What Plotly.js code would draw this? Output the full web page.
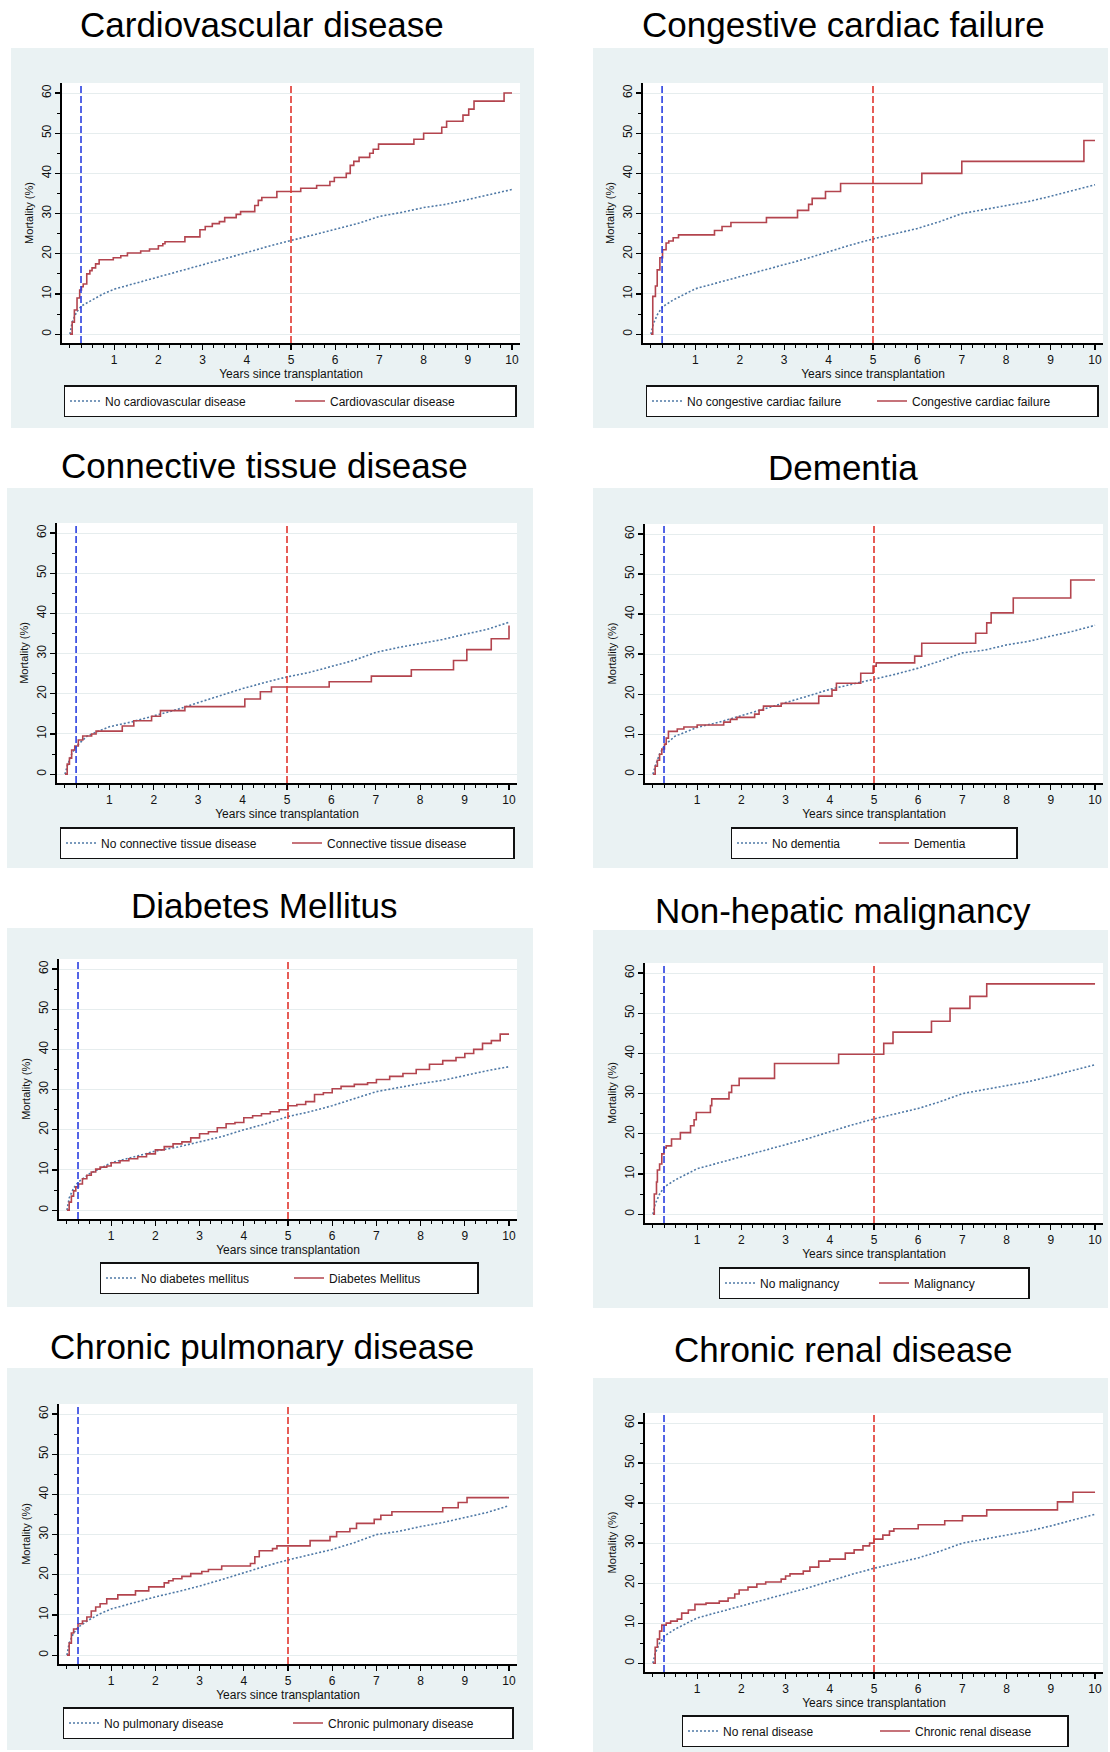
<!DOCTYPE html>
<html>
<head>
<meta charset="utf-8">
<script src="https://cdn.plot.ly/plotly-3.0.1.min.js"></script>
<style>html,body{margin:0;padding:0;background:#fff;}#chart{width:1110px;height:1752px;}</style>
</head>
<body>
<div id="chart"></div>
<script>
// ---------------- DATA ----------------
const panelTitles = ["Cardiovascular disease","Congestive cardiac failure","Connective tissue disease","Dementia",
  "Diabetes Mellitus","Non-hepatic malignancy","Chronic pulmonary disease","Chronic renal disease"];
const noLabels = ["No cardiovascular disease","No congestive cardiac failure","No connective tissue disease","No dementia",
  "No diabetes mellitus","No malignancy","No pulmonary disease","No renal disease"];
const yesLabels = ["Cardiovascular disease","Congestive cardiac failure","Connective tissue disease","Dementia",
  "Diabetes Mellitus","Malignancy","Chronic pulmonary disease","Chronic renal disease"];
const xTickVals = [1,2,3,4,5,6,7,8,9,10];
const yTickVals = [0,10,20,30,40,50,60];
const refLines = [0.25, 5];
const xTitle = "Years since transplantation";
const yTitle = "Mortality (%)";

// comparison (no comorbidity) curves: common time grid
const blueT = [0,0.05,0.15,0.26,0.5,0.75,1,1.5,2,2.5,3,3.5,4,4.5,5,5.5,6,6.5,7,7.5,8,8.5,9,9.5,10];
const blue1 = [0,3,5.5,7,8.5,10,11.2,12.7,14.3,15.8,17.2,18.7,20.3,21.9,23.3,24.6,26,27.5,29.3,30.3,31.5,32.3,33.5,34.8,36];
const blue2 = [0,2.5,5,6.8,8.5,10,11.3,12.8,14.3,15.8,17.2,18.8,20.5,22.2,23.7,25,26.3,28,30,31,32,33,34.3,35.8,37.2];
const blue3 = [0,2,5,7,9.5,10.7,11.8,13,14.5,16,17.8,19.5,21.3,22.8,24.2,25.3,26.8,28.3,30.3,31.5,32.5,33.5,34.8,36,37.8];
const blue4 = [0,2,5,7.2,9.5,10.7,11.7,13,14.6,16.2,17.8,19.5,21.2,22.5,23.8,25,26.5,28.3,30.3,31,32.3,33.2,34.5,35.7,37.2];
const blue5 = [0,3,5.5,7,9,10.5,11.8,13.2,14.7,15.7,17,18.3,20,21.5,23.3,24.5,26,27.8,29.5,30.5,31.5,32.3,33.5,34.7,35.7];
const blue6 = [0,2.5,5,6.8,8.5,10,11.3,12.8,14.3,15.8,17.2,18.8,20.5,22.2,23.7,25,26.3,28,30,31,32,33,34.3,35.8,37.2];
const blue7 = [0,3,5.5,7,8.8,10.3,11.5,13,14.5,15.8,17.2,18.8,20.5,22.2,23.7,25,26.3,28,30,30.8,32,33,34.3,35.5,37.2];
const blue8 = [0,2.5,5,6.8,8.5,10,11.3,12.8,14.3,15.8,17.2,18.8,20.5,22.2,23.7,25,26.3,28,30,31,32,33,34.3,35.8,37.2];

// comorbidity (step) curves
const redT1 = [0,0.05,0.1,0.16,0.22,0.26,0.3,0.38,0.45,0.5,0.58,0.66,0.98,1.15,1.3,1.6,1.8,2.0,2.1,2.15,2.6,2.94,3.06,3.22,3.38,3.5,3.76,3.86,4.18,4.26,4.34,4.68,5.22,5.58,5.88,5.98,6.25,6.34,6.42,6.54,6.78,6.86,6.98,7.78,8.0,8.41,8.52,8.89,9.02,9.14,9.82,10];
const redY1 = [0,3,6,9,11,11.8,12.5,15,15.8,16.5,17.5,18.5,19,19.5,20.2,20.7,21.2,22,22.5,23,24.2,26,26.8,27.5,28,29,29.8,30.5,32,33.3,34,35.5,36.3,37,38,39,40,42,43,44,45,46,47.3,48.5,50,51.5,53,54.5,56,58,60,60];
const redT2 = [0,0.04,0.1,0.14,0.2,0.26,0.34,0.4,0.5,0.62,1.43,1.6,1.8,2.6,3.3,3.55,3.63,3.93,4.27,6.1,7.0,9.75,10];
const redY2 = [0,9.4,12,16,19,21,22.7,23.2,24,24.7,25.8,26.8,27.8,29,30.8,32.3,33.8,35.5,37.5,40,43,48.2,48.2];
const redT3 = [0,0.05,0.1,0.15,0.22,0.3,0.4,0.6,0.7,1.29,1.55,1.95,2.15,2.7,4.05,4.4,4.65,5.95,6.9,7.8,8.75,9.05,9.6,10,10];
const redY3 = [0,2.5,4,6,7,8.5,9.5,10,10.7,12,13.3,14.4,15.8,16.8,18.7,20.5,21.7,23,24.4,26,28.3,31,33.7,33.7,37];
const redT4 = [0,0.05,0.1,0.15,0.2,0.26,0.3,0.35,0.55,0.7,1.0,1.6,1.75,1.9,2.3,2.4,2.5,2.9,3.75,4.05,4.15,4.7,4.98,5.05,5.92,6.08,7.3,7.55,7.65,8.15,9.45,10];
const redY4 = [0,2,3.5,5,6.3,7.5,9,10.7,11.3,11.8,12.3,13,13.7,14.2,15,16,17,17.7,19.5,21,22.7,25.2,27,27.8,29.5,32.7,35.2,37.8,40.3,44,48.5,48.5];
const redT5 = [0,0.05,0.1,0.15,0.2,0.26,0.35,0.45,0.55,0.65,0.75,0.9,1.0,1.2,1.4,1.6,1.8,2.0,2.2,2.4,2.6,2.8,3.0,3.2,3.4,3.6,3.8,4.0,4.2,4.4,4.6,4.8,5.0,5.2,5.4,5.6,5.8,6.0,6.2,6.5,6.8,7.0,7.3,7.6,7.9,8.2,8.5,8.8,9.0,9.2,9.4,9.6,9.8,10];
const redY5 = [0,2,3.5,4.8,5.8,6.5,7.8,8.7,9.5,10.2,10.7,11,11.8,12.3,12.8,13.3,14,15,15.8,16.5,17,18,19,19.5,20.5,21.5,21.8,23,23.5,24,24.5,25,26,26.3,27,28.8,29.2,30.2,30.8,31.3,31.7,32.5,33.3,34,35,36.3,37.2,38,39,40,41.5,42.2,43.8,43.8];
const redT6 = [0,0.03,0.08,0.1,0.15,0.2,0.25,0.3,0.42,0.62,0.85,0.93,0.98,1.3,1.33,1.72,1.78,1.95,2.75,4.2,5.22,5.43,6.3,6.72,7.17,7.55,10];
const redY6 = [0,5,8,11,12.5,15,16.5,17,18.7,20.3,22,23.5,25.3,27,28.7,30.3,32,33.8,37.5,39.8,42.5,45.3,48,51.2,54.2,57.3,57.3];
const redT7 = [0,0.05,0.1,0.15,0.25,0.35,0.45,0.55,0.65,0.75,0.9,1.15,1.55,1.85,2.2,2.3,2.4,2.6,2.8,3.05,3.2,3.5,4.15,4.25,4.35,4.65,4.75,5.5,5.95,6.1,6.4,6.55,6.95,7.1,7.35,8.5,8.85,9.05,10];
const redY7 = [0,3,5.5,6.5,7.8,8.5,9.5,11,12,12.8,14,15,16,17,18,18.5,19,19.6,20.3,20.8,21.3,22.2,22.8,24.5,26,26.5,27.2,28.5,29.5,30.7,31.5,32.8,33.8,34.8,35.7,36.7,38,39.2,39.2];
const redT8 = [0,0.05,0.1,0.15,0.2,0.3,0.4,0.55,0.65,0.8,0.95,1.2,1.5,1.7,1.85,1.95,2.15,2.35,2.55,2.9,3.0,3.1,3.4,3.55,3.75,4.0,4.35,4.55,4.75,4.9,5.0,5.2,5.35,5.45,6.0,6.6,7.0,7.55,9.15,9.5,10];
const redY8 = [0,4,6,8,9.5,10,10.5,11,12.5,13.3,14.7,15,15.5,16.3,17.3,18.3,19,19.8,20.3,21,21.8,22.3,23,24,25.5,26,27.5,28.3,29.3,30,31,32,33,33.6,34.6,35.6,36.8,38.3,40.3,42.7,42.7];

const blueY = [blue1,blue2,blue3,blue4,blue5,blue6,blue7,blue8];
const redT = [redT1,redT2,redT3,redT4,redT5,redT6,redT7,redT8];
const redY = [redY1,redY2,redY3,redY4,redY5,redY6,redY7,redY8];

// ---------------- LAYOUT GEOMETRY (pixels) ----------------
const W = 1110, H = 1752;
const geo = [
  {bg:[11,48,534,428],   plot:[62,83,520,343],    title:[262,25],   leg:[290,385],  ew:180},
  {bg:[593,48,1108,428], plot:[643,83,1103,343],  title:[843,25],   leg:[872,385],  ew:180},
  {bg:[7,488,533,868],   plot:[57,523,517,783],   title:[264,465],  leg:[287,827],  ew:181},
  {bg:[593,488,1108,868],plot:[645,524,1103,783], title:[843,467],  leg:[874,827],  ew:97},
  {bg:[7,928,533,1307],  plot:[59,959,517,1219],  title:[264,905],  leg:[289,1262], ew:143},
  {bg:[593,930,1108,1308],plot:[645,963,1103,1223],title:[843,910], leg:[874,1267], ew:109},
  {bg:[7,1368,533,1750], plot:[59,1404,517,1664], title:[262,1346], leg:[288,1707], ew:179},
  {bg:[593,1378,1108,1752],plot:[645,1413,1103,1672],title:[843,1349],leg:[875,1715],ew:147}
];
const FONT = "Liberation Sans, Arial, Helvetica, sans-serif";
const BLUE = "#4F79A6", RED = "#B3444E";
const px = v => v / W, py = v => 1 - v / H;

const traces = [];
const layout = {
  width: W, height: H, autosize: false,
  margin: {l:0, r:0, t:0, b:0},
  paper_bgcolor: "#ffffff", plot_bgcolor: "#ffffff",
  font: {family: FONT, color: "#111"},
  showlegend: true,
  shapes: [], annotations: []
};

geo.forEach((g, i) => {
  const n = i + 1;
  const xa = n === 1 ? "x" : "x" + n, ya = n === 1 ? "y" : "y" + n;
  const xk = n === 1 ? "xaxis" : "xaxis" + n, yk = n === 1 ? "yaxis" : "yaxis" + n;
  const lg = n === 1 ? "legend" : "legend" + n;

  traces.push({
    x: blueT, y: blueY[i], type: "scatter", mode: "lines", name: noLabels[i],
    xaxis: xa, yaxis: ya, legend: lg,
    line: {color: BLUE, width: 1.6, dash: "2px,2px"}, hoverinfo: "skip"
  });
  traces.push({
    x: redT[i], y: redY[i], type: "scatter", mode: "lines", name: yesLabels[i],
    xaxis: xa, yaxis: ya, legend: lg,
    line: {color: RED, width: 1.6, shape: "hv"}, hoverinfo: "skip"
  });

  const [l, t, r, b] = g.plot;
  layout[xk] = {
    domain: [px(l), px(r)], anchor: ya, range: [-0.18, 10.18],
    tickmode: "array", tickvals: xTickVals, ticks: "outside", ticklen: 5, tickwidth: 1.2, tickcolor: "#000",
    showline: true, linecolor: "#000", linewidth: 1.6, showgrid: false, zeroline: false,
    tickfont: {size: 12, color: "#111"},
    minor: {tickmode: "linear", tick0: 0, dtick: 0.25, ticks: "outside", ticklen: 3, tickwidth: 1, tickcolor: "#000", showgrid: false},
    title: {text: xTitle, font: {size: 12, color: "#111"}, standoff: 2},
    fixedrange: true
  };
  layout[yk] = {
    domain: [py(b), py(t)], anchor: xa, range: [-2.2, 62.5],
    tickmode: "array", tickvals: yTickVals, ticks: "outside", ticklen: 5, tickwidth: 1.2, tickcolor: "#000",
    tickangle: -90, tickfont: {size: 12, color: "#111"},
    showline: true, linecolor: "#000", linewidth: 1.6, zeroline: false,
    showgrid: true, gridcolor: "#E6EDEE", gridwidth: 1,
    minor: {tickmode: "linear", tick0: 0, dtick: 5, ticks: "outside", ticklen: 3, tickwidth: 1, tickcolor: "#000", showgrid: false},
    title: {text: yTitle, font: {size: 11, color: "#111"}, standoff: 4},
    fixedrange: true
  };

  // panel background and white plot region
  layout.shapes.push({type: "rect", xref: "paper", yref: "paper", layer: "below",
    x0: px(g.bg[0]), x1: px(g.bg[2]), y0: py(g.bg[3]), y1: py(g.bg[1]),
    fillcolor: "#EAF2F3", line: {width: 0}});
  layout.shapes.push({type: "rect", xref: "paper", yref: "paper", layer: "below",
    x0: px(l), x1: px(r), y0: py(b), y1: py(t),
    fillcolor: "#FFFFFF", line: {width: 0}});
  // reference lines at 3 months and 5 years
  const refCols = ["#2A3FE0", "#E0352E"];
  refLines.forEach((v, k) => {
    layout.shapes.push({type: "line", xref: xa, yref: ya + " domain", x0: v, x1: v, y0: 0, y1: 1,
      line: {color: refCols[k], width: 1.6, dash: "7px,3px"}});
  });

  layout.annotations.push({xref: "paper", yref: "paper", x: px(g.title[0]), y: py(g.title[1]),
    xanchor: "center", yanchor: "middle", showarrow: false, text: panelTitles[i],
    font: {size: 35, color: "#000", family: FONT}});

  layout[lg] = {
    orientation: "h", x: px(g.leg[0]), y: py(g.leg[1]), xanchor: "center", yanchor: "top",
    bgcolor: "#FFFFFF", bordercolor: "#111", borderwidth: 1.5,
    font: {size: 12, color: "#111", family: FONT},
    entrywidth: g.ew, entrywidthmode: "pixels", traceorder: "normal"
  };
});

Plotly.newPlot("chart", traces, layout, {staticPlot: true, displayModeBar: false});
</script>
</body>
</html>
